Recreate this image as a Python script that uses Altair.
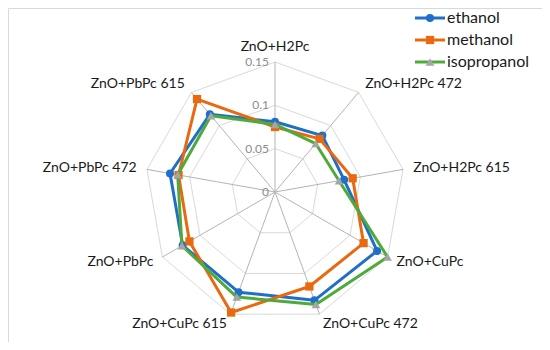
import math
import altair as alt
import pandas as pd

categories = ["ZnO+H2Pc", "ZnO+H2Pc 472", "ZnO+H2Pc 615", "ZnO+CuPc", "ZnO+CuPc 472",
              "ZnO+CuPc 615", "ZnO+PbPc", "ZnO+PbPc 472", "ZnO+PbPc 615"]
series_names = ["ethanol", "methanol", "isopropanol"]
ethanol = [0.081, 0.085, 0.081, 0.136, 0.133, 0.123, 0.123, 0.123, 0.117]
methanol = [0.075, 0.080, 0.091, 0.118, 0.116, 0.148, 0.114, 0.113, 0.140]
isopropanol = [0.078, 0.073, 0.075, 0.150, 0.138, 0.129, 0.124, 0.114, 0.115]
tick_values = [0, 0.05, 0.1, 0.15]
tick_labels = ["0", "0.05", "0.1", "0.15"]
ring_values = [0.05, 0.1, 0.15]

line_colors = ["#1F6FC8", "#E8690F", "#4EAA3A"]
marker_colors = ["#1F6FC8", "#E8690F", "#A5A5A5"]
marker_shapes = ["circle", "square", "triangle-up"]
marker_sizes = [64, 68, 75]

N = len(categories)
RMAX = 0.15
FONT = "Lato"

xs = alt.Scale(domain=[-RMAX, RMAX], range=[137, 397], nice=False, zero=False)
ys = alt.Scale(domain=[-RMAX, RMAX], range=[314, 54], nice=False, zero=False)

ANG = f"datum.k * 2 * PI / {N}"


def polar(chart, rfield="r"):
    return chart.transform_calculate(
        ang=ANG
    ).transform_calculate(
        x=f"datum.{rfield} * sin(datum.ang)",
        y=f"datum.{rfield} * cos(datum.ang)",
    )


# grid rings
ring_rows = [{"ring": rv, "i": i, "k": i % N, "r": rv} for rv in ring_values for i in range(N + 1)]
rings = polar(alt.Chart(pd.DataFrame(ring_rows))).mark_line(
    color="#d9d9d9", strokeWidth=1
).encode(
    x=alt.X("x:Q", scale=xs, axis=None),
    y=alt.Y("y:Q", scale=ys, axis=None),
    detail="ring:N",
    order="i:Q",
)

# spokes
spoke_rows = [{"k": k, "r": RMAX, "c": 0.0} for k in range(N)]
spokes = polar(alt.Chart(pd.DataFrame(spoke_rows))).mark_rule(
    color="#b4b4b4", strokeWidth=1
).encode(
    x=alt.X("c:Q", scale=xs, axis=None),
    y=alt.Y("c:Q", scale=ys, axis=None),
    x2="x:Q",
    y2="y:Q",
)

# radial tick labels
tick_df = pd.DataFrame({"v": tick_values, "lab": tick_labels, "c": [0.0] * len(tick_values)})
ticks = alt.Chart(tick_df).mark_text(
    align="right", baseline="middle", dx=-6, fontSize=12, color="#8c8c8c", font=FONT
).encode(
    x=alt.X("c:Q", scale=xs, axis=None),
    y=alt.Y("v:Q", scale=ys, axis=None),
    text="lab:N",
)

# category labels
cat_df = pd.DataFrame({"cat": categories, "k": list(range(N)), "r": [RMAX + 0.012] * N})
cat_base = polar(alt.Chart(cat_df)).transform_calculate(
    side="sin(datum.ang) > 0.1 ? 'left' : (sin(datum.ang) < -0.1 ? 'right' : 'center')"
)
cat_layers = []
for side in ["left", "center", "right"]:
    cat_layers.append(
        cat_base.transform_filter(f"datum.side == '{side}'").mark_text(
            align=side, baseline="middle", fontSize=14, color="#1a1a1a", font=FONT,
            dy=(-5 if side == "center" else 0),
        ).encode(
            x=alt.X("x:Q", scale=xs, axis=None),
            y=alt.Y("y:Q", scale=ys, axis=None),
            text="cat:N",
        )
    )

# series
series_values = [ethanol, methanol, isopropanol]
series_layers = []
legend_layers = []
for s, (name, vals) in enumerate(zip(series_names, series_values)):
    rows = [{"series": name, "i": i, "k": i % N, "r": vals[i % N]} for i in range(N + 1)]
    base = polar(alt.Chart(pd.DataFrame(rows)))
    line = base.mark_line(color=line_colors[s], strokeWidth=3, strokeJoin="round").encode(
        x=alt.X("x:Q", scale=xs, axis=None),
        y=alt.Y("y:Q", scale=ys, axis=None),
        order="i:Q",
    )
    pts = base.transform_filter("datum.i < %d" % N).mark_point(
        shape=marker_shapes[s], filled=True, opacity=1, size=marker_sizes[s],
        color=marker_colors[s],
    ).encode(
        x=alt.X("x:Q", scale=xs, axis=None),
        y=alt.Y("y:Q", scale=ys, axis=None),
    )
    series_layers += [line, pts]

    # legend entry
    ly = 10 + s * 22
    ldf = pd.DataFrame({"series": [name]})
    leg = alt.Chart(ldf)
    legend_layers.append(
        leg.mark_rule(color=line_colors[s], strokeWidth=3).encode(
            x=alt.value(407), x2=alt.value(437), y=alt.value(ly)
        )
    )
    legend_layers.append(
        leg.mark_point(shape=marker_shapes[s], filled=True, opacity=1,
                       size=marker_sizes[s], color=marker_colors[s]).encode(
            x=alt.value(422), y=alt.value(ly)
        )
    )
    legend_layers.append(
        leg.mark_text(align="left", baseline="middle", fontSize=16, color="#1a1a1a",
                      font=FONT).encode(
            x=alt.value(439), y=alt.value(ly), text="series:N"
        )
    )

chart = alt.layer(
    rings, spokes, ticks, *cat_layers, *series_layers, *legend_layers
).properties(
    width=534, height=334, padding=0,
    autosize=alt.AutoSizeParams(type="none"),
).configure_view(stroke="#d9d9d9", strokeWidth=1)

chart.save("out.html", embed_options={"renderer": "svg", "actions": False})
